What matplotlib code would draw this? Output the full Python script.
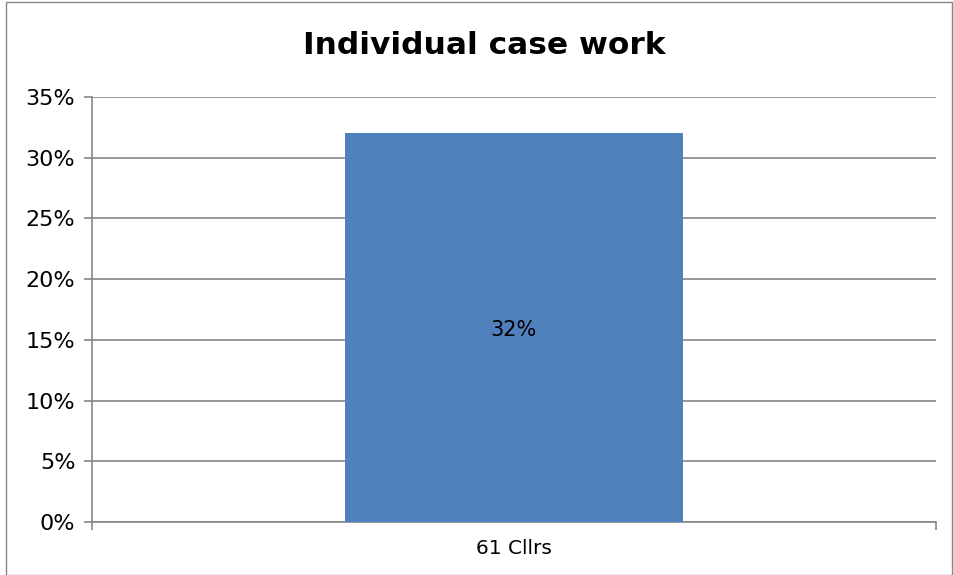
import matplotlib
matplotlib.use("Agg")
import matplotlib.pyplot as plt
from matplotlib.patches import Rectangle

categories = ["61 Cllrs"]
values = [32]
y_ticks = [0, 5, 10, 15, 20, 25, 30, 35]
title = "Individual case work"

bar_color = "#4F81BD"
grid_color = "#868686"

plt.rcParams["font.family"] = ["DejaVu Sans"]

fig = plt.figure(figsize=(9.54, 5.75), dpi=100)
ax = fig.add_axes([92 / 954, 1 - 522 / 575, (936 - 92) / 954, (522 - 97) / 575])

x = list(range(len(categories)))
ax.bar(x, values, width=0.4, color=bar_color, zorder=3)
for xi, v in zip(x, values):
    ax.text(xi, v / 2 - 0.2, f"{v}%", ha="center", va="center", fontsize=15, color="black", zorder=4)

ax.set_xlim(-0.5, 0.5)
ax.set_ylim(0, 35)
ax.set_yticks(y_ticks)
ax.set_yticklabels([f"{t}%" for t in y_ticks], fontsize=16)
ax.yaxis.grid(True, color=grid_color, linewidth=1.2, zorder=0)
ax.set_axisbelow(True)

# category ticks sit on the category boundaries
ax.set_xticks([-0.5, 0.5])
ax.set_xticklabels([])
ax.tick_params(axis="x", direction="out", length=6, width=1.2, color=grid_color)
ax.tick_params(axis="y", direction="out", length=6, width=1.2, color=grid_color, pad=6)
for label in ax.get_yticklabels():
    label.set_verticalalignment("center_baseline")
for xi, c in zip(x, categories):
    ax.text(xi, -0.04, c, transform=ax.get_xaxis_transform(), ha="center", va="top", fontsize=14.5)

for side in ["top", "right"]:
    ax.spines[side].set_visible(False)
for side in ["left", "bottom"]:
    ax.spines[side].set_color(grid_color)
    ax.spines[side].set_linewidth(1.2)

fig.text(484 / 954, 1 - 45 / 575, title, ha="center", va="center", fontsize=22.5, fontweight="bold")

fig.patches.append(Rectangle((6.5 / 954, 0.5 / 575), 946 / 954, 573 / 575, transform=fig.transFigure,
                             fill=False, edgecolor="#868686", linewidth=1.0))

fig.savefig("out.png", dpi=100)
